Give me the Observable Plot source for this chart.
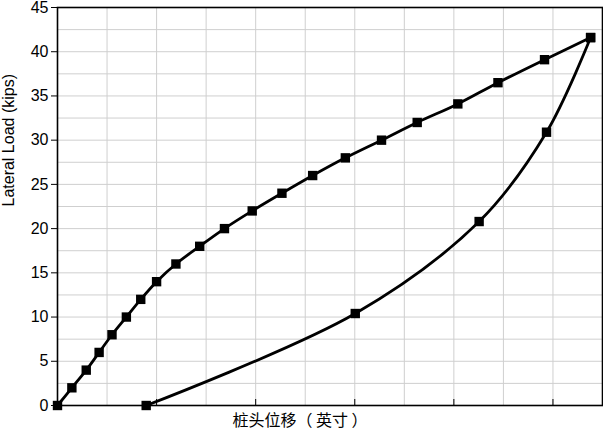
<!DOCTYPE html>
<html>
<head>
<meta charset="utf-8">
<script src="https://cdn.jsdelivr.net/npm/d3@7"></script>
<script src="https://cdn.jsdelivr.net/npm/@observablehq/plot@0.6"></script>
<style>
  html, body { margin: 0; padding: 0; background: #fff; }
</style>
</head>
<body>
<div id="chart"></div>
<script>
// Loading branch (pile head displacement, lateral load in kips)
const loadX = [0, 0.029, 0.058, 0.084, 0.110, 0.139, 0.168, 0.200, 0.239, 0.287, 0.337, 0.393, 0.453, 0.515, 0.581, 0.654, 0.726, 0.808, 0.889, 0.983, 1.076];
const loadY = [0, 2, 4, 6, 8, 10, 12, 14, 16, 18, 20, 22, 24, 26, 28, 30, 32, 34.1, 36.5, 39.1, 41.6];
// Unloading branch
const unloadX = [1.076, 0.987, 0.851, 0.601, 0.179];
const unloadY = [41.6, 30.9, 20.8, 10.4, 0];

const yTicks = [0, 5, 10, 15, 20, 25, 30, 35, 40, 45];
const yGrid = [2.5, 5, 7.5, 10, 12.5, 15, 17.5, 20, 22.5, 25, 27.5, 30, 32.5, 35, 37.5, 40, 42.5];
const xGrid = [0.1, 0.2, 0.3, 0.4, 0.5, 0.6, 0.7, 0.8, 0.9, 1.0];
const xTicks = [0.2, 0.4, 0.6, 0.8, 1.0];
const xLabel = "桩头位移（ 英寸 ）";
const yLabel = "Lateral Load (kips)";

const loading = loadX.map((x, i) => ({x, y: loadY[i]}));
const unloading = unloadX.map((x, i) => ({x, y: unloadY[i]}));

const chart = Plot.plot({
  width: 603,
  height: 431,
  marginLeft: 57,
  marginRight: 1,
  marginTop: 7,
  marginBottom: 26,
  style: {fontFamily: "'Liberation Sans', Arial, sans-serif", fontSize: "16px", background: "#fff", color: "#000"},
  x: {domain: [0, 1.1], axis: null},
  y: {domain: [0, 45], axis: null},
  marks: [
    Plot.gridX(xGrid, {stroke: "#cfcfcf", strokeOpacity: 1, strokeWidth: 1}),
    Plot.gridY(yGrid, {stroke: "#cfcfcf", strokeOpacity: 1, strokeWidth: 1}),
    Plot.axisY({ticks: yTicks, tickSize: 6, tickPadding: 3, label: null, fontSize: 16, stroke: "#000"}),
    Plot.axisX({ticks: xTicks, tickSize: 6, tickFormat: () => "", label: null, dy: -6, stroke: "#000"}),
    Plot.frame({stroke: "#000", strokeWidth: 1.6}),
    Plot.line(loading, {x: "x", y: "y", curve: "catmull-rom", stroke: "#000", strokeWidth: 2.8}),
    Plot.line(unloading, {x: "x", y: "y", curve: "catmull-rom", stroke: "#000", strokeWidth: 2.8}),
    Plot.dot(loading, {x: "x", y: "y", symbol: "square", r: 5.3, fill: "#000", stroke: null}),
    Plot.dot(unloading, {x: "x", y: "y", symbol: "square", r: 5.3, fill: "#000", stroke: null}),
    Plot.text([xLabel], {text: d => d, frameAnchor: "bottom", dx: -30, dy: 15, lineAnchor: "middle",
      fontFamily: "'Noto Sans CJK SC', sans-serif", fontSize: 16, fill: "#000"}),
    Plot.text([yLabel], {text: d => d, frameAnchor: "left", dx: -49, rotate: -90, lineAnchor: "middle",
      fontSize: 16, fill: "#000"})
  ]
});
document.getElementById("chart").appendChild(chart);
</script>
</body>
</html>
